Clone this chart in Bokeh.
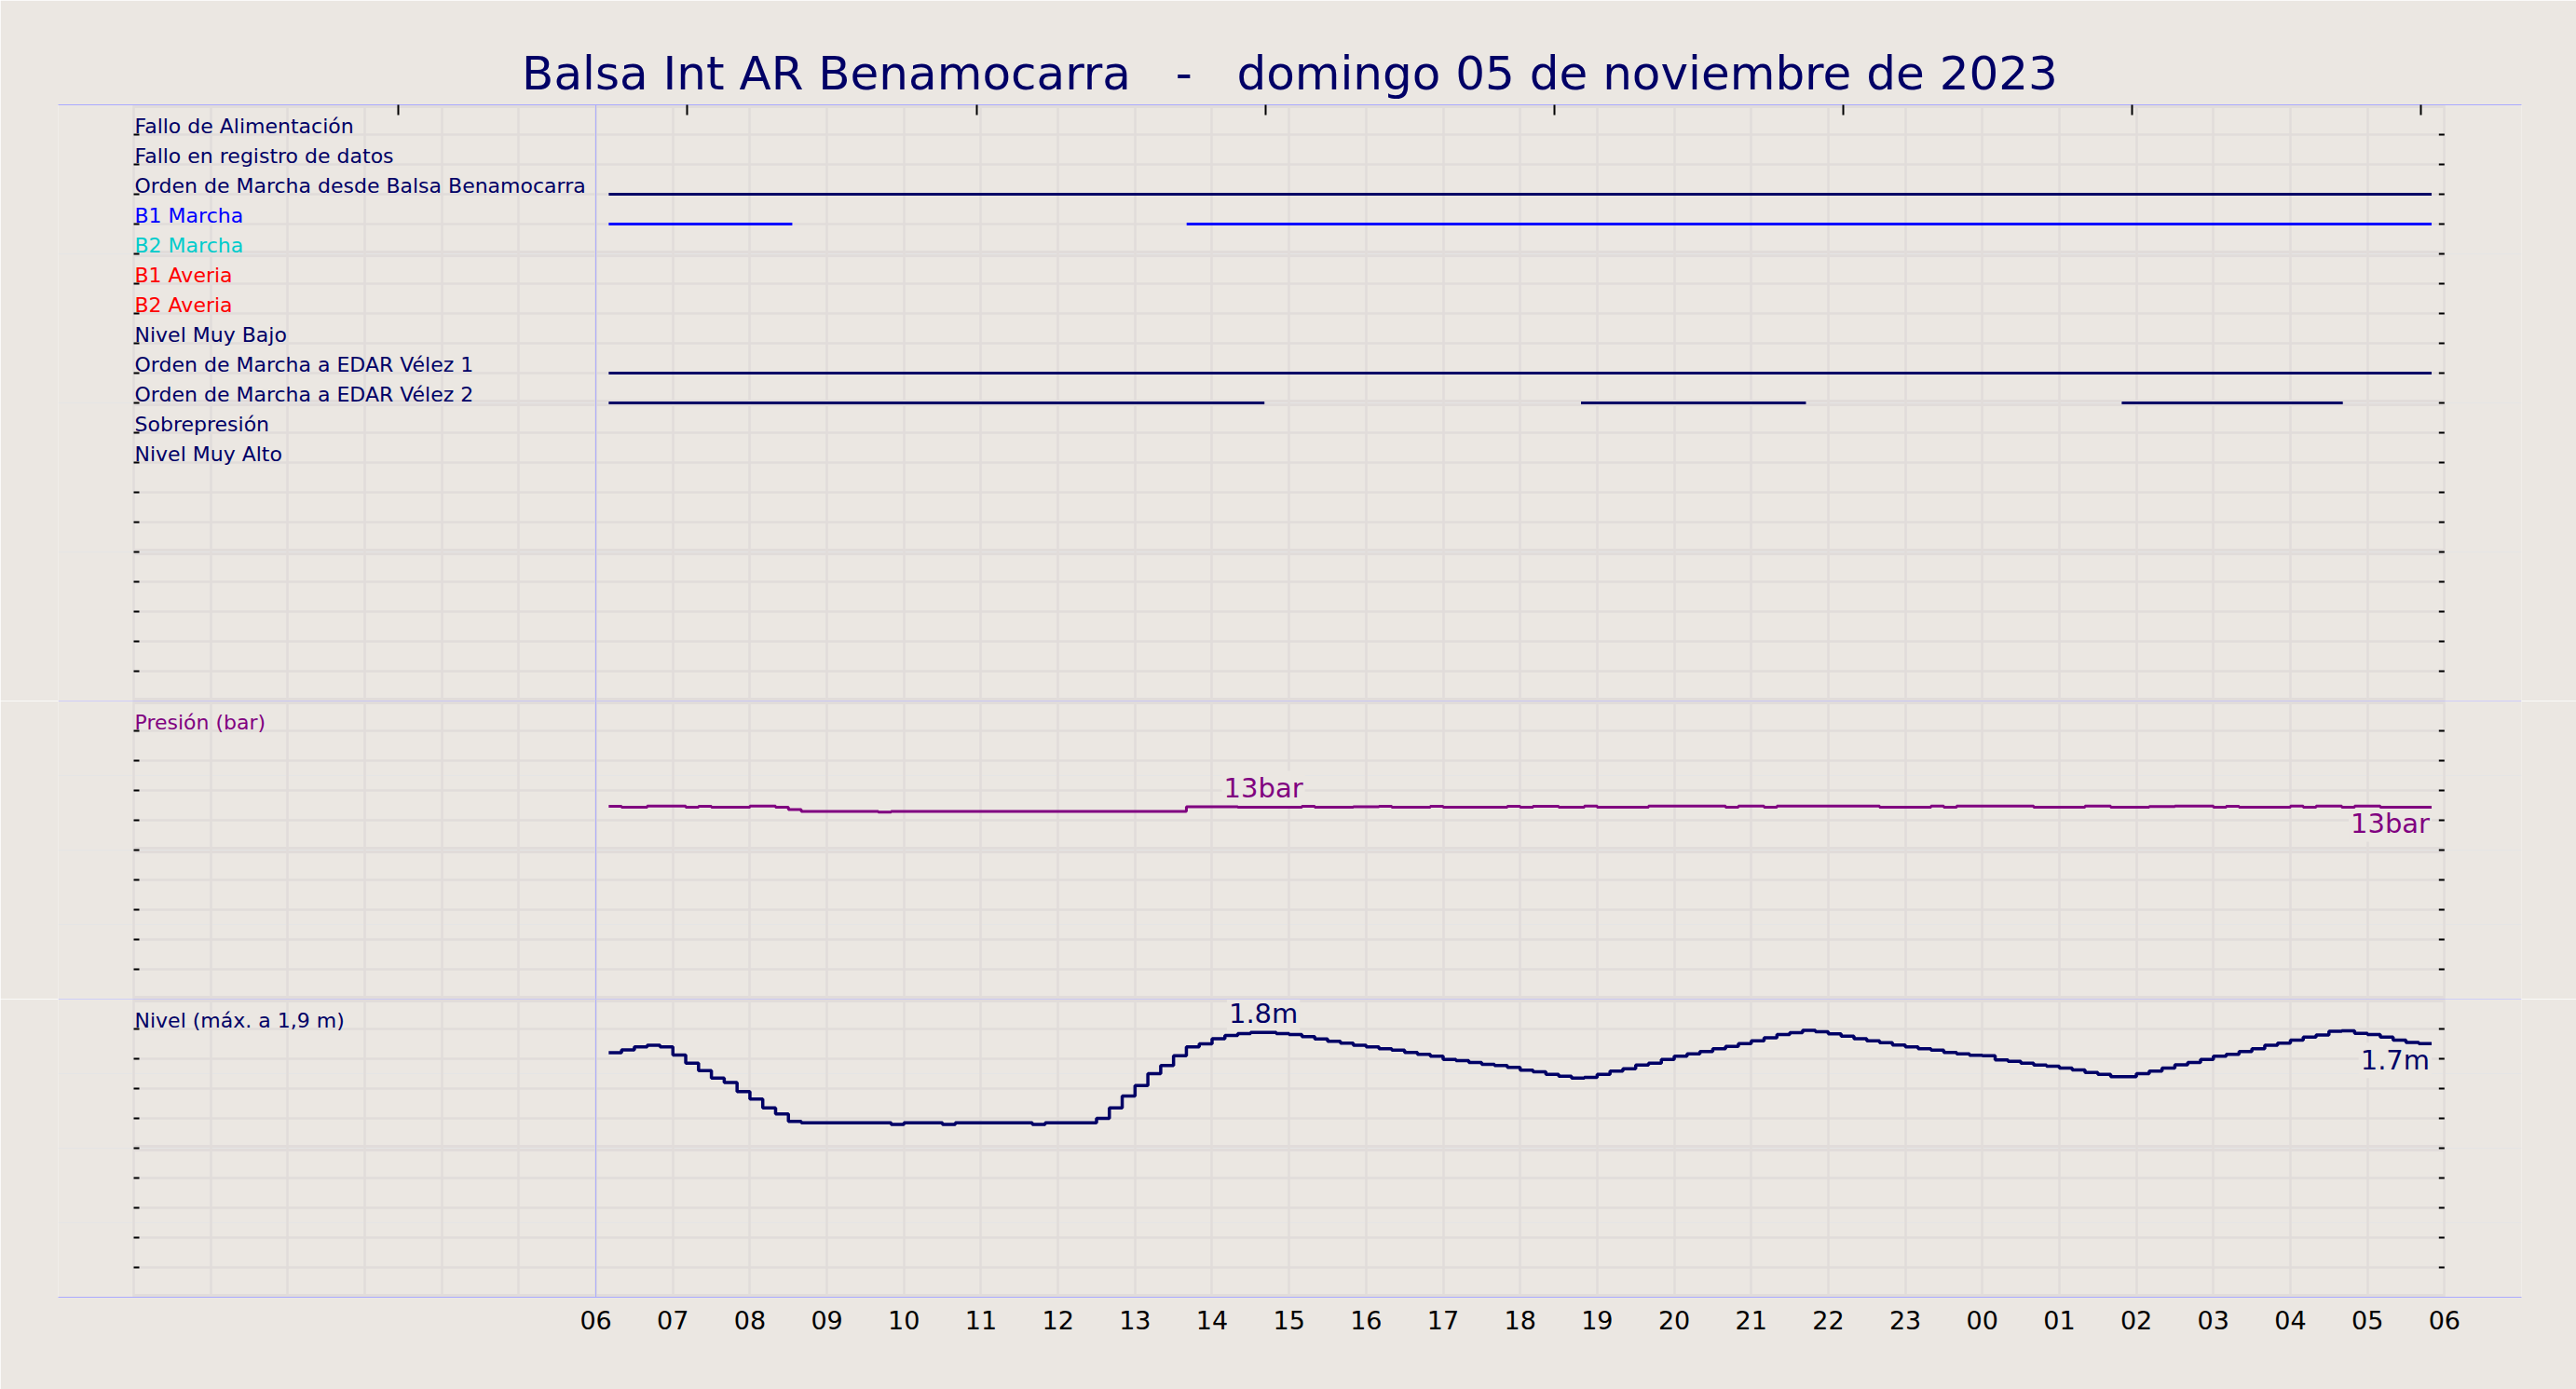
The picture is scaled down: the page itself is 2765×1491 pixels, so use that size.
import numpy as np
from bokeh.plotting import figure
from bokeh.layouts import column
from bokeh.models import Range1d, FixedTicker, LinearAxis, Span, Label, Grid
from bokeh.embed import file_html
from bokeh.resources import INLINE
from bokeh.core.properties import value

# ---------------- data ----------------
TITLE = "Balsa Int AR Benamocarra \u00a0 - \u00a0 domingo 05 de noviembre de 2023"

HOURS = list(range(0, 31))                 # hourly grid, 00:00 .. 06:00 next day
X_TICKS = list(range(6, 31))
X_LABELS = ["06", "07", "08", "09", "10", "11", "12", "13", "14", "15", "16", "17",
            "18", "19", "20", "21", "22", "23", "00", "01", "02", "03", "04", "05", "06"]
TOP_TICKS = [3.44, 7.19, 10.94, 14.69, 18.44, 22.19, 25.94, 29.69]

SIGNAL_LABELS = ["Fallo de Alimentación", "Fallo en registro de datos",
                 "Orden de Marcha desde Balsa Benamocarra", "B1 Marcha", "B2 Marcha",
                 "B1 Averia", "B2 Averia", "Nivel Muy Bajo", "Orden de Marcha a EDAR Vélez 1",
                 "Orden de Marcha a EDAR Vélez 2", "Sobrepresión", "Nivel Muy Alto"]
SIGNAL_COLORS = ["#000066", "#000066", "#000066", "#0000ff", "#00cccc", "#ff0000",
                 "#ff0000", "#000066", "#000066", "#000066", "#000066", "#000066"]
SIGNAL_ROWS = [19, 18, 17, 16, 15, 14, 13, 12, 11, 10, 9, 8]

# on-intervals (hours from 00:00 of day 1) of the active signals
ON_SIGNAL = ["Orden de Marcha desde Balsa Benamocarra", "B1 Marcha", "B1 Marcha",
             "Orden de Marcha a EDAR Vélez 1", "Orden de Marcha a EDAR Vélez 2",
             "Orden de Marcha a EDAR Vélez 2", "Orden de Marcha a EDAR Vélez 2"]
ON_START = [6.167, 6.167, 13.67, 6.167, 6.167, 18.79, 25.81]
ON_END = [29.833, 8.55, 29.833, 29.833, 14.68, 21.71, 28.68]

SAMPLE_START = 6 + 10 / 60   # 06:10, samples every 10 minutes
SAMPLE_STEP = 1 / 6

LEVEL = [1.64, 1.66, 1.68, 1.69, 1.68,
         1.625, 1.57, 1.52, 1.47, 1.44, 1.38,
         1.33, 1.27, 1.23, 1.18, 1.17, 1.17,
         1.17, 1.17, 1.17, 1.17, 1.17, 1.16,
         1.17, 1.17, 1.17, 1.16, 1.17, 1.17,
         1.17, 1.17, 1.17, 1.17, 1.16, 1.17,
         1.17, 1.17, 1.17, 1.20, 1.27, 1.35,
         1.42, 1.50, 1.555, 1.62, 1.68, 1.70,
         1.735, 1.756, 1.769, 1.777, 1.777, 1.769,
         1.762, 1.748, 1.733, 1.717, 1.704, 1.69,
         1.679, 1.667, 1.658, 1.642, 1.629, 1.617,
         1.596, 1.588, 1.575, 1.562, 1.554, 1.542,
         1.523, 1.512, 1.496, 1.483, 1.471, 1.475,
         1.496, 1.517, 1.533, 1.558, 1.571, 1.596,
         1.617, 1.633, 1.648, 1.667, 1.683, 1.702,
         1.721, 1.74, 1.762, 1.775, 1.79, 1.781,
         1.767, 1.752, 1.735, 1.721, 1.708, 1.692,
         1.679, 1.667, 1.658, 1.642, 1.633, 1.623,
         1.621, 1.592, 1.583, 1.571, 1.558, 1.55,
         1.537, 1.525, 1.508, 1.496, 1.479, 1.479,
         1.50, 1.517, 1.537, 1.56, 1.575, 1.596,
         1.617, 1.629, 1.648, 1.667, 1.69, 1.704,
         1.725, 1.746, 1.76, 1.785, 1.788, 1.771,
         1.762, 1.746, 1.725, 1.71, 1.702, 1.702]

PRESSURE = [12.94, 12.88, 12.88, 12.96, 12.96,
            12.96, 12.88, 12.94, 12.88, 12.88, 12.88,
            12.96, 12.96, 12.88, 12.72, 12.6, 12.6,
            12.6, 12.6, 12.6, 12.6, 12.55, 12.6,
            12.6, 12.6, 12.6, 12.6, 12.6, 12.6,
            12.6, 12.6, 12.6, 12.6, 12.6, 12.6,
            12.6, 12.6, 12.6, 12.6, 12.6, 12.6,
            12.6, 12.6, 12.6, 12.6, 12.9, 12.9,
            12.9, 12.9, 12.88, 12.88, 12.88, 12.88,
            12.88, 12.94, 12.88, 12.88, 12.88, 12.9,
            12.9, 12.94, 12.88, 12.88, 12.88, 12.94,
            12.88, 12.88, 12.88, 12.88, 12.88, 12.94,
            12.88, 12.94, 12.94, 12.88, 12.88, 12.95,
            12.88, 12.88, 12.88, 12.88, 12.95, 12.95,
            12.95, 12.95, 12.95, 12.95, 12.88, 12.95,
            12.95, 12.88, 12.95, 12.95, 12.95, 12.95,
            12.95, 12.95, 12.95, 12.95, 12.88, 12.88,
            12.88, 12.88, 12.96, 12.88, 12.96, 12.96,
            12.96, 12.96, 12.96, 12.96, 12.88, 12.88,
            12.88, 12.88, 12.96, 12.96, 12.88, 12.88,
            12.88, 12.92, 12.92, 12.96, 12.96, 12.96,
            12.88, 12.94, 12.88, 12.88, 12.88, 12.88,
            12.96, 12.88, 12.96, 12.96, 12.88, 12.96,
            12.96, 12.88, 12.88, 12.88, 12.88, 12.88]

ANNOT_INDEX = 51   # 14:40 sample, annotated in both analog panels

P_ROWS = [2, 4, 6, 8, 12, 14, 16, 18]
P_MAJOR = [0, 10, 20]
L_ROWS = [0.2, 0.4, 0.6, 0.8, 1.2, 1.4, 1.6, 1.8]
L_MAJOR = [0.0, 1.0, 2.0]
S_ROWS = [1, 2, 3, 4, 6, 7, 8, 9, 11, 12, 13, 14, 16, 17, 18, 19]
S_MAJOR = [0, 5, 10, 15, 20]

# ---------------- style ----------------
FONT = "DejaVu Sans"
BG = "#ebe7e2"
GRID = "#e1dcda"
LAV = "#aaaaff"
NAVY = "#000066"
PURPLE = "#800080"

W = 2765
ML, MR = 62, 59
X_RANGE = Range1d(-0.98, 31.0)
FRAME_W = W - ML - MR
PXH = FRAME_W / (X_RANGE.end - X_RANGE.start)

times = SAMPLE_START + np.arange(len(LEVEL)) * SAMPLE_STEP


def make_fig(height, y0, y1, top, bottom, title=None):
    p = figure(width=W, height=height, x_range=X_RANGE, y_range=Range1d(y0, y1),
               output_backend="svg", toolbar_location=None,
               x_axis_location=None, y_axis_location=None,
               min_border_left=ML, min_border_right=MR,
               min_border_top=top, min_border_bottom=bottom,
               background_fill_color=BG, border_fill_color=BG,
               outline_line_color=None, title=title)
    p.add_layout(Grid(dimension=0, ticker=FixedTicker(ticks=HOURS),
                      grid_line_color=GRID, grid_line_width=2.5))
    return p


def decorate(p, rows, majors):
    n = len(rows)
    r1 = p.segment(x0=[HOURS[0]] * n, x1=[HOURS[-1]] * n, y0=rows, y1=rows,
                   line_color=GRID, line_width=2.5)
    m = len(majors)
    r2 = p.segment(x0=[HOURS[0]] * m, x1=[HOURS[-1]] * m, y0=majors, y1=majors,
                   line_color=GRID, line_width=7)
    r1.level = "underlay"
    r2.level = "underlay"
    ticks = [r for r in rows + majors if p.y_range.start < r < p.y_range.end]
    k = len(ticks)
    L = 6 / PXH
    p.segment(x0=[HOURS[0]] * k + [HOURS[-1] - L] * k,
              x1=[HOURS[0] + L] * k + [HOURS[-1]] * k,
              y0=ticks + ticks, y1=ticks + ticks, line_color="black", line_width=2)
    p.add_layout(Span(location=X_TICKS[0], dimension="height", line_color=LAV, line_width=1))


def row_text(p, ys, texts, colors):
    p.text(x=[HOURS[0]] * len(texts), y=ys, text=texts, text_color=colors,
           text_font=value(FONT), text_font_size="22px", text_baseline="alphabetic",
           text_align="left", x_offset=1, y_offset=-9)


def value_label(p, x, y, text, color, align, offset):
    lab = Label(x=x, y=y, text=text, text_align=align, text_baseline="alphabetic",
                y_offset=offset, text_font=FONT, text_font_size="29px",
                text_color=color, background_fill_color=BG, padding=2)
    lab.level = "underlay"
    p.add_layout(lab)


# ---------------- panel 1: digital signals ----------------
p1 = make_fig(752, 0, 20, 112, 0, title=TITLE)
p1.title.align = "center"
p1.title.text_font = FONT
p1.title.text_font_size = "50px"
p1.title.text_font_style = "normal"
p1.title.text_color = NAVY
decorate(p1, S_ROWS, S_MAJOR)
top_ax = LinearAxis(ticker=FixedTicker(ticks=TOP_TICKS),
                    major_label_overrides={t: "" for t in TOP_TICKS},
                    major_label_text_font_size="0px", major_label_standoff=0,
                    axis_line_color=LAV, axis_line_width=1,
                    major_tick_in=11, major_tick_out=0,
                    major_tick_line_color="black", major_tick_line_width=2,
                    minor_tick_in=0, minor_tick_out=0)
p1.add_layout(top_ax, "above")

row_of = dict(zip(SIGNAL_LABELS, SIGNAL_ROWS))
col_of = dict(zip(SIGNAL_LABELS, SIGNAL_COLORS))
p1.segment(x0=ON_START, x1=ON_END,
           y0=[row_of[s] for s in ON_SIGNAL], y1=[row_of[s] for s in ON_SIGNAL],
           line_color=[col_of[s] for s in ON_SIGNAL], line_width=3)
row_text(p1, SIGNAL_ROWS, SIGNAL_LABELS, SIGNAL_COLORS)

# ---------------- panel 2: pressure ----------------
p2 = make_fig(320, 0, 20, 0, 0)
decorate(p2, P_ROWS, P_MAJOR)
p2.add_layout(Span(location=20, dimension="width", line_color=LAV, line_width=1))
p2.step(x=times, y=PRESSURE, mode="after", line_color=PURPLE, line_width=3)
row_text(p2, [P_ROWS[-1]], ["Presión (bar)"], [PURPLE])
value_label(p2, times[ANNOT_INDEX], PRESSURE[ANNOT_INDEX],
            f"{PRESSURE[ANNOT_INDEX]:.0f}bar", PURPLE, "center", 20)
value_label(p2, times[-1], PRESSURE[-1], f"{PRESSURE[-1]:.0f}bar", PURPLE, "right", -18)

# ---------------- panel 3: level ----------------
p3 = make_fig(419, 0, 2, 0, 99)
decorate(p3, L_ROWS, L_MAJOR)
p3.add_layout(Span(location=2, dimension="width", line_color=LAV, line_width=1))
p3.step(x=times, y=LEVEL, mode="after", line_color=NAVY, line_width=3.5)
row_text(p3, [L_ROWS[-1]], ["Nivel (máx. a 1,9 m)"], [NAVY])
value_label(p3, times[ANNOT_INDEX], LEVEL[ANNOT_INDEX],
            f"{LEVEL[ANNOT_INDEX]:.1f}m", NAVY, "center", 20)
value_label(p3, times[-1], LEVEL[-1], f"{LEVEL[-1]:.1f}m", NAVY, "right", -18)
bx = LinearAxis(ticker=FixedTicker(ticks=X_TICKS),
                major_label_overrides=dict(zip(X_TICKS, X_LABELS)),
                axis_line_color=LAV, axis_line_width=1,
                major_tick_in=0, major_tick_out=0, minor_tick_in=0, minor_tick_out=0,
                major_label_standoff=14, major_label_text_font=FONT,
                major_label_text_font_size="27px", major_label_text_color="black")
p3.add_layout(bx, "below")

layout = column(p1, p2, p3, spacing=0)
with open("out.html", "w") as f:
    f.write(file_html(layout, INLINE))
